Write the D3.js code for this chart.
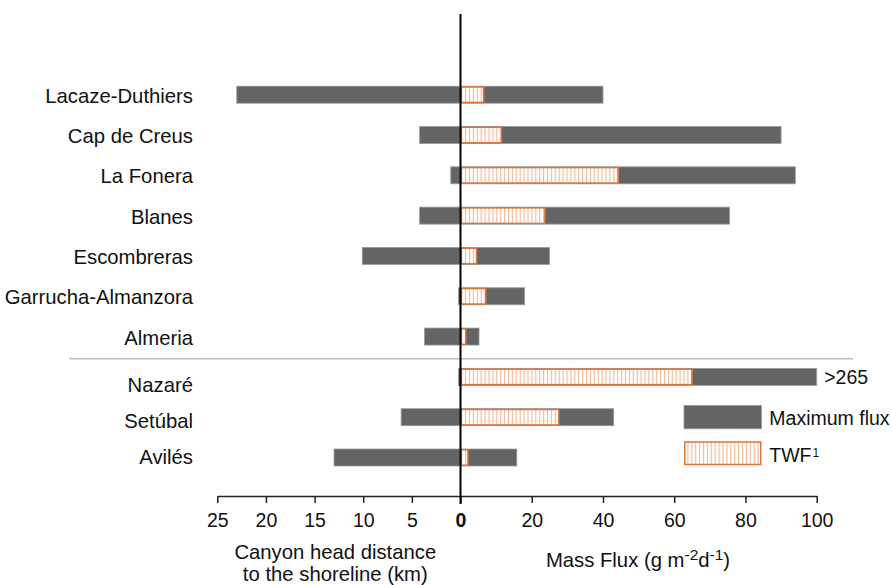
<!DOCTYPE html>
<html>
<head>
<meta charset="utf-8">
<script src="https://cdn.jsdelivr.net/npm/d3@7"></script>
<style>
  html, body { margin: 0; padding: 0; background: #fff; }
  svg { display: block; font-family: "Liberation Sans", Arial, sans-serif; }
</style>
</head>
<body>
<svg id="chart" width="892" height="585"></svg>
<script>
// Submarine canyons, top (Mediterranean) and bottom (Atlantic) groups
const canyons = ["Lacaze-Duthiers", "Cap de Creus", "La Fonera", "Blanes", "Escombreras",
                 "Garrucha-Almanzora", "Almeria", "Nazaré", "Setúbal", "Avilés"];
const atlantic = ["Nazaré", "Setúbal", "Avilés"];
// Canyon head distance to the shoreline (km)
const headDistance = [23, 4.2, 1.0, 4.2, 10.1, 0.2, 3.7, 0.2, 6.1, 13.0];
// Maximum mass flux (g m-2 d-1); Nazaré exceeds the axis
const maxFlux = [40, 90, 94, 75.5, 25, 18, 5.2, 265, 43, 15.8];
// Time-weighted mass flux (g m-2 d-1)
const twf = [6.7, 11.7, 44.5, 23.9, 4.7, 7.3, 1.7, 65.2, 27.8, 2.3];
// Axis ticks
const kmTicks = [25, 20, 15, 10, 5, 0];
const fluxTicks = [20, 40, 60, 80, 100];

const svg = d3.select("#chart");
const ink = "#111";
const grey = "#646464";
const orange = "#d9763d";
const labelSize = 20.3;

const xKm = d3.scaleLinear().domain([0, 25]).range([460.5, 217.3]);
const xFlux = d3.scaleLinear().domain([0, 100]).range([460.5, 816.7]).clamp(true);
const y = d3.scalePoint().domain(canyons).range([94.7, 457.5]);
const yLabelLower = d3.scalePoint().domain(atlantic).range([392, 464]);
const barH = 17;
const axisY = 496;

// vertical hatch fill for TWF bars
const defs = svg.append("defs");
const pat = defs.append("pattern")
  .attr("id", "hatch").attr("patternUnits", "userSpaceOnUse")
  .attr("width", 3.9).attr("height", 10);
pat.append("rect").attr("width", 3.9).attr("height", 10).attr("fill", "#fff");
pat.append("line").attr("x1", 1.5).attr("x2", 1.5).attr("y1", 0).attr("y2", 10)
  .attr("stroke", "#efbc9b").attr("stroke-width", 1.2);

const rows = canyons.map((name, i) => ({
  name, dist: headDistance[i], max: maxFlux[i], twf: twf[i]
}));

// separator between the two canyon groups
const sepY = (y("Almeria") + y("Nazaré")) / 2 + 2;
svg.append("line")
  .attr("x1", 69).attr("x2", 853).attr("y1", sepY).attr("y2", sepY)
  .attr("stroke", "#bdbdbd").attr("stroke-width", 1.5);

// maximum flux bars, extending left by the head distance
svg.append("g").selectAll("rect").data(rows).join("rect")
  .attr("x", d => xKm(d.dist))
  .attr("y", d => y(d.name) - barH / 2)
  .attr("width", d => xFlux(d.max) - xKm(d.dist))
  .attr("height", barH)
  .attr("fill", grey)
  .attr("stroke", "#9a9a9a").attr("stroke-width", 0.8);

// TWF bars
svg.append("g").selectAll("rect").data(rows).join("rect")
  .attr("x", xFlux(0) + 0.75)
  .attr("y", d => y(d.name) - barH / 2 + 0.75)
  .attr("width", d => xFlux(d.twf) - xFlux(0) - 1.5)
  .attr("height", barH - 1.5)
  .attr("fill", "url(#hatch)")
  .attr("stroke", orange).attr("stroke-width", 1.5);

// value note for the clipped Nazaré bar
const naz = rows.find(d => d.name === "Nazaré");
svg.append("text")
  .attr("x", xFlux(naz.max) + 7.5).attr("y", y("Nazaré") + 7.5)
  .attr("font-size", 19.5).attr("fill", ink)
  .text(">" + naz.max);

// canyon labels
svg.append("g").selectAll("text").data(rows).join("text")
  .attr("x", 193)
  .attr("y", d => atlantic.includes(d.name) ? yLabelLower(d.name) : y(d.name) + 8)
  .attr("text-anchor", "end")
  .attr("font-size", labelSize).attr("fill", ink)
  .text(d => d.name);

// bottom axes
function styleAxis(g) {
  g.select(".domain").attr("stroke", "#222").attr("stroke-width", 1.5);
  g.selectAll(".tick line").attr("stroke", "#222").attr("stroke-width", 1.5);
  g.selectAll(".tick text")
    .attr("font-size", 19.5).attr("fill", ink)
    .attr("font-family", "Liberation Sans, Arial, sans-serif");
}
const gKm = svg.append("g").attr("transform", `translate(0,${axisY})`)
  .call(d3.axisBottom(xKm).tickValues(kmTicks).tickSize(7).tickSizeOuter(0).tickPadding(10))
  .call(styleAxis);
gKm.selectAll(".tick text").filter(d => d === 0).attr("font-weight", "bold");

svg.append("g").attr("transform", `translate(0,${axisY})`)
  .call(d3.axisBottom(xFlux).tickValues(fluxTicks).tickSize(7).tickSizeOuter(0).tickPadding(10))
  .call(styleAxis);

// zero line
svg.append("line")
  .attr("x1", xFlux(0)).attr("x2", xFlux(0)).attr("y1", 14).attr("y2", axisY + 8)
  .attr("stroke", "#000").attr("stroke-width", 2);

// axis titles
const kmTitle = svg.append("text").attr("text-anchor", "middle")
  .attr("font-size", labelSize).attr("fill", ink);
kmTitle.append("tspan").attr("x", 335.3).attr("y", 559).text("Canyon head distance");
kmTitle.append("tspan").attr("x", 335.3).attr("y", 580.5).text("to the shoreline (km)");

const fluxTitle = svg.append("text").attr("x", 638).attr("y", 567.3)
  .attr("text-anchor", "middle").attr("font-size", labelSize).attr("fill", ink);
fluxTitle.append("tspan").text("Mass Flux (g m");
fluxTitle.append("tspan").attr("font-size", 15.5).attr("dy", -7).text("-2");
fluxTitle.append("tspan").attr("dy", 7).text("d");
fluxTitle.append("tspan").attr("font-size", 15.5).attr("dy", -7).text("-1");
fluxTitle.append("tspan").attr("dy", 7).text(")");

// legend
const legend = svg.append("g");
legend.append("rect").attr("x", 684).attr("y", 405.5).attr("width", 77.5).attr("height", 23.3)
  .attr("fill", grey).attr("stroke", "#9a9a9a").attr("stroke-width", 0.8);
legend.append("text").attr("x", 769.3).attr("y", 425).attr("font-size", 19.5).attr("fill", ink)
  .text("Maximum flux");
legend.append("rect").attr("x", 684.75).attr("y", 442).attr("width", 76).attr("height", 22.5)
  .attr("fill", "url(#hatch)").attr("stroke", orange).attr("stroke-width", 1.5);
const twfText = legend.append("text").attr("x", 769.3).attr("y", 461.5)
  .attr("font-size", 19.5).attr("fill", ink);
twfText.append("tspan").text("TWF");
twfText.append("tspan").attr("font-size", 12).attr("dx", 1).attr("dy", -5).text("1");
</script>
</body>
</html>
